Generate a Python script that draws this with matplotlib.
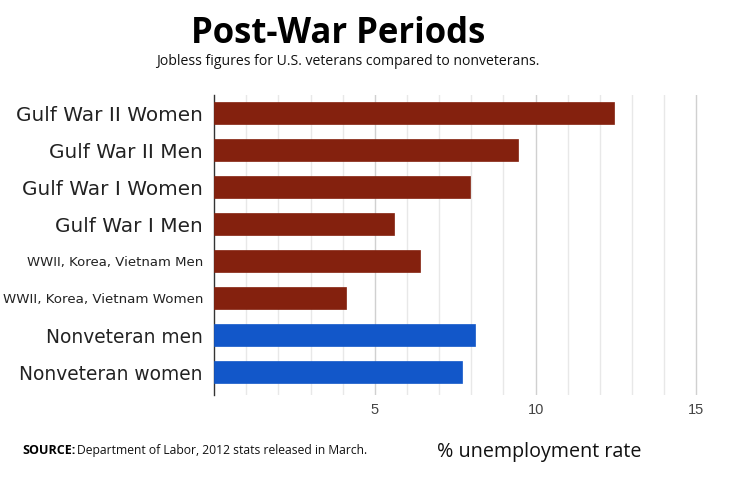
import matplotlib
matplotlib.use("Agg")
import matplotlib.pyplot as plt
import numpy as np

# data
labels = ["Gulf War II Women", "Gulf War II Men", "Gulf War I Women", "Gulf War I Men",
          "WWII, Korea, Vietnam Men", "WWII, Korea, Vietnam Women",
          "Nonveteran men", "Nonveteran women"]
rates = [12.45, 9.45, 7.95, 5.6, 6.4, 4.1, 8.1, 7.7]
groups = ["vet", "vet", "vet", "vet", "vet", "vet", "non", "non"]
label_sizes = [20, 20, 20, 20, 13.2, 13.4, 18.6, 18.6]
major_ticks = [5, 10, 15]

colors = {"vet": "#84210e", "non": "#1257c9"}

fig = plt.figure(figsize=(7.36, 4.82), dpi=100)
ax = fig.add_axes([0.2908, 0.1805, 0.6576, 0.6225])

y = np.arange(len(labels))
ax.barh(y, rates, height=0.6, color=[colors[g] for g in groups],
        edgecolor=[colors[g] for g in groups], linewidth=0.5, zorder=3)

ax.set_xlim(0, 15.05)
ax.set_ylim(len(labels) - 0.38, -0.49)

# light gridlines every unit, slightly darker at majors
for v in range(1, 16):
    ax.axvline(v, color="#d0d0d0" if v % 5 == 0 else "#e8e8e8", lw=1, zorder=1)

ax.set_xticks(major_ticks)
ax.set_xticklabels([str(t) for t in major_ticks], fontsize=10.5, color="#444444",
                   family="Liberation Sans")
ax.tick_params(axis="x", length=0, pad=6)
ax.set_yticks(y)
ax.set_yticklabels(labels, color="#222222")
for lab, s in zip(ax.get_yticklabels(), label_sizes):
    lab.set_family("DejaVu Sans")
    lab.set_fontsize(s * 0.72)
ax.tick_params(axis="y", length=0, pad=8)

for side in ["top", "right", "bottom"]:
    ax.spines[side].set_visible(False)
ax.spines["left"].set_color("#333333")
ax.spines["left"].set_linewidth(1)

fig.text(0.459, 0.93, "Post-War Periods", ha="center", va="center",
         fontsize=25, fontweight="bold", family="Open Sans")
fig.text(0.472, 0.873, "Jobless figures for U.S. veterans compared to nonveterans.",
         ha="center", va="center", fontsize=10.1, family="Open Sans", color="#111111")

fig.text(0.03, 0.066, "SOURCE:", ha="left", va="center", fontsize=9,
         fontweight="bold", family="Open Sans")
fig.text(0.104, 0.066, "Department of Labor, 2012 stats released in March.", ha="left",
         va="center", fontsize=8.7, family="Open Sans", color="#111111")
fig.text(0.594, 0.063, "% unemployment rate", ha="left", va="center",
         fontsize=14.2, family="Open Sans", color="#111111")

fig.savefig("out.png", dpi=100, facecolor="white")
